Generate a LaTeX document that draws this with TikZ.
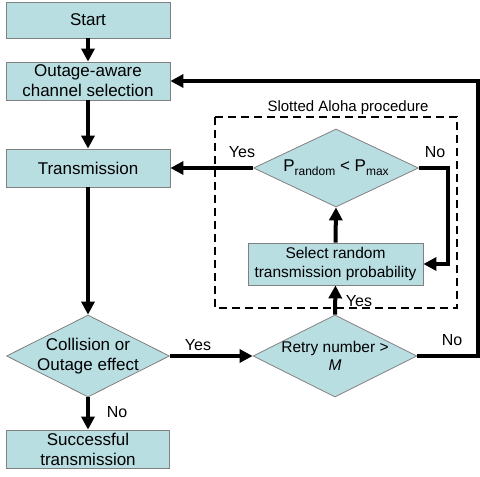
\documentclass[tikz,border=0pt]{standalone}
\usepackage{fontspec}
\setmainfont{Liberation Sans}
\usetikzlibrary{shapes.geometric,arrows.meta}
\definecolor{boxfill}{RGB}{184,222,226}
\definecolor{boxline}{RGB}{128,128,128}
\tikzset{
  box/.style={rectangle, draw=boxline, line width=0.8pt, fill=boxfill,
    inner sep=0pt, align=center, font=\fontsize{17}{20}\selectfont},
  decision/.style={diamond, draw=boxline, line width=0.8pt, fill=boxfill,
    inner sep=0pt},
  flow/.style={line width=4pt, -{Triangle[length=13pt,width=13pt]}},
  tag/.style={font=\fontsize{16}{18}\selectfont, inner sep=0pt},
  frame/.style={line width=1.8pt, dash pattern=on 8pt off 5pt}
}
\begin{document}
\begin{tikzpicture}[x=1pt,y=-1pt]
\useasboundingbox (0,0) rectangle (480,477);

% dashed frame of the Slotted Aloha part
\draw[frame] (215,117) rectangle (457,308);
\node[inner sep=0pt, font=\fontsize{15}{17}\selectfont] (title) at (348,108) {Slotted Aloha procedure};

% main column
\node[box, minimum width=164pt, minimum height=36pt] (start) at (88,20) {Start};
\node[box, minimum width=164pt, minimum height=38pt] (chan) at (88,81) {Outage-aware\\channel selection};
\node[box, minimum width=164pt, minimum height=38pt] (trans) at (88,168) {Transmission};
\node[decision, minimum width=163pt, minimum height=82pt,
  label={[align=center, font=\fontsize{17}{20}\selectfont]center:Collision or\\Outage effect}] (coll) at (88,356) {};
\node[box, minimum width=163pt, minimum height=38pt] (succ) at (88,449) {Successful\\transmission};

% retry and random access part
\node[decision, minimum width=164pt, minimum height=82pt,
  label={[align=center, font=\fontsize{15.5}{18}\selectfont]center:Retry number >\\\textit{M}}] (retry) at (335,356) {};
\node[box, minimum width=175pt, minimum height=42pt, font=\fontsize{15.5}{19}\selectfont] (rand) at (335.5,264) {Select random\\transmission probability};
\node[decision, minimum width=165pt, minimum height=78pt,
  label={[font=\fontsize{17}{20}\selectfont]center:P{\fontsize{12}{12}\selectfont\raisebox{-4pt}{random}} < P{\fontsize{12}{12}\selectfont\raisebox{-4pt}{max}}}] (prob) at (336,168) {};

% turning points of the loops
\coordinate (edge) at (478,356);
\coordinate (bend) at (448,168);

% connectors
\draw[flow] (start) -- (chan);
\draw[flow] (chan) -- (trans);
\draw[flow] (trans) -- (coll);
\draw[flow] (coll) -- (succ);
\draw[flow] (coll.east) -- (retry.west);
\draw[flow] (retry.north) -- (rand.south);
\draw[flow] (rand.north) -- (prob.south);
\draw[flow] (prob.west) -- (trans.east);
\draw[flow] (prob.east) -- (bend) |- (rand.east);
\draw[flow] (retry.east) -- (edge) |- (chan.east);

% branch labels
\node[tag] (y1) at (242,152) {Yes};
\node[tag] (n1) at (435,152) {No};
\node[tag] (y2) at (359,301) {Yes};
\node[tag] (y3) at (198,345) {Yes};
\node[tag] (n2) at (452,340) {No};
\node[tag] (n3) at (117,412) {No};
\end{tikzpicture}
\end{document}
